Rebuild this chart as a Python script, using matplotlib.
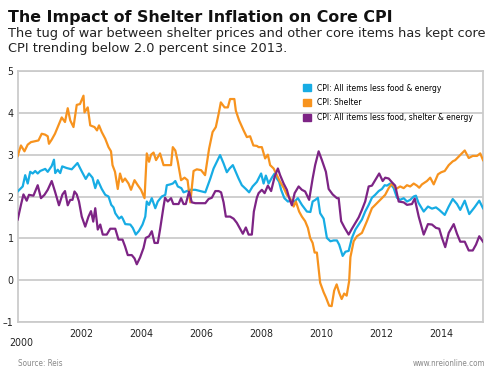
import matplotlib
matplotlib.use('Agg')
import matplotlib.pyplot as plt
import matplotlib.font_manager as fm
from matplotlib.patches import Patch
import numpy as np

# months since Jan 2000 (YoY % change)
core_months = [0, 2, 3, 4, 5, 6, 7, 8, 9, 11, 12, 13.6, 14.5, 15, 16, 17, 17.8, 19.6, 21.6,
               23.9, 25.6, 27.2, 28.5, 29.9, 31, 32, 33.6, 35, 36.3, 37.4, 38.3, 39, 40.5,
               41.5, 42, 43, 45, 46, 47.2, 48.5, 49.9, 51, 51.6, 52.5, 53.6, 55, 56, 57.6,
               59, 59.6, 61, 62, 63, 64, 65.4, 66.3, 67.6, 69, 71, 73, 75, 77, 78.3, 79.6,
               80.9, 82.3, 83.6, 84.7, 86, 87, 88.3, 89.6, 91.2, 92.5, 93.9, 95.6, 97.3,
               98.3, 99.2, 100.3, 101.6, 102.7, 103.6, 104.5, 105.3, 106.6, 108, 109.3,
               110.7, 112, 113.6, 115.6, 117, 117.9, 119, 120, 120.9, 122.3, 123.6, 125,
               126.3, 127.6, 128.5, 129.9, 131, 132.3, 133.6, 135, 136.3, 137.6, 138.9,
               140.3, 141.6, 142.9, 144.3, 145.6, 146.7, 147.6, 148.9, 150.3, 151.6, 152.9,
               154.3, 155.6, 156.9, 158.3, 159.2, 160.2, 162.3, 164, 165.6, 167.2, 168.5,
               170.7, 172.3, 173.9, 175.6, 176.9, 178.7, 180.5, 182.6, 184.5, 186]
core_vals = [2.12, 2.24, 2.51, 2.31, 2.59, 2.55, 2.61, 2.55, 2.61, 2.66, 2.59, 2.73, 2.88, 2.56,
             2.64, 2.56, 2.72, 2.68, 2.65, 2.8, 2.6, 2.42, 2.55, 2.45, 2.2, 2.39, 2.18, 2.04,
             2.0, 1.8, 1.74, 1.6, 1.47, 1.52, 1.47, 1.34, 1.33, 1.25, 1.09, 1.18, 1.33, 1.52,
             1.88, 1.8, 1.96, 1.72, 1.88, 2.0, 2.04, 2.27, 2.29, 2.31, 2.37, 2.24, 2.2, 2.1,
             2.13, 2.16, 2.16, 2.13, 2.1, 2.43, 2.67, 2.83, 2.99, 2.79, 2.58, 2.67, 2.75,
             2.61, 2.43, 2.27, 2.18, 2.1, 2.24, 2.35, 2.55, 2.31, 2.5, 2.31, 2.45, 2.55, 2.43,
             2.35, 2.16, 1.96, 1.88, 1.9, 1.88, 1.96, 1.8, 1.64, 1.63, 1.88, 1.92, 1.97, 1.6,
             1.47, 1.01, 0.93, 0.95, 0.95, 0.85, 0.58, 0.68, 0.7, 1.01, 1.21, 1.33, 1.45, 1.64,
             1.8, 1.97, 2.04, 2.13, 2.18, 2.27, 2.26, 2.31, 2.2, 1.97, 1.92, 1.96, 1.88, 1.92,
             2.0, 2.02, 1.85, 1.64, 1.76, 1.71, 1.74, 1.68, 1.56, 1.76, 1.94, 1.82, 1.68, 1.9,
             1.58, 1.74, 1.9, 1.72]

shelter_months = [0, 1.3, 2.7, 4, 5.3, 6.9, 8.3, 9.6, 10.9, 12, 12.5, 13.6, 14.9, 16.3, 17.6,
                  18.9, 20, 21, 22.3, 23.6, 24.9, 26.3, 26.7, 28, 29, 30.7, 31.7, 32.5, 33.6,
                  35, 36.3, 37.3, 37.9, 38.9, 40, 40.9, 41.9, 42.9, 44.3, 45.3, 46.7, 48,
                  49.3, 50.7, 51.6, 52.5, 53.3, 54.3, 55.3, 56.9, 58.3, 59.6, 61.3, 62, 63,
                  64, 65.3, 66.7, 67.9, 69, 70.3, 71.6, 73.3, 74.9, 76.5, 77.9, 79.2, 80.3,
                  81.2, 82.7, 84, 84.9, 86.6, 87.2, 88.5, 90.3, 91.6, 92.9, 94.2, 95.6, 96.3,
                  97.6, 98.9, 100, 100.9, 102.3, 103.6, 104.9, 106.3, 107.6, 108.9, 110.3,
                  111.2, 112.5, 113.6, 114.9, 116, 116.9, 117.9, 118.7, 119.6, 120.9, 122.3,
                  123.2, 124.5, 125.5, 126.5, 127.5, 128.5, 129.5, 130.5, 131.5, 132.5, 133,
                  134.3, 135.6, 137.6, 139.6, 141.6, 143.6, 145.6, 146.9, 148.3, 149.6, 151.2,
                  152.9, 154.3, 155.6, 156.9, 158.3, 159.6, 160.5, 161.6, 163.6, 164.9, 166.3,
                  168, 169.3, 170.7, 172.3, 173.9, 174.9, 176.9, 178.7, 180.3, 181.9, 183.6,
                  184.9, 186]
shelter_vals = [2.97, 3.22, 3.08, 3.24, 3.3, 3.32, 3.34, 3.5, 3.48, 3.44, 3.26, 3.36, 3.5, 3.7,
                3.89, 3.78, 4.11, 3.82, 3.66, 4.19, 4.21, 4.41, 4.01, 4.13, 3.7, 3.66, 3.58,
                3.7, 3.54, 3.38, 3.18, 3.08, 2.75, 2.59, 2.18, 2.55, 2.35, 2.43, 2.31, 2.16,
                2.39, 2.27, 2.16, 1.96, 3.03, 2.83, 3.0, 3.05, 2.87, 3.03, 2.75, 2.75, 2.75,
                3.18, 3.1, 2.83, 2.39, 2.45, 2.39, 1.86, 2.61, 2.65, 2.63, 2.51, 3.14, 3.54,
                3.66, 3.97, 4.25, 4.13, 4.13, 4.33, 4.33, 4.05, 3.82, 3.58, 3.42, 3.44, 3.22,
                3.21, 3.18, 3.18, 2.91, 3.0, 2.75, 2.67, 2.51, 2.35, 2.21, 2.04, 1.96, 1.76,
                1.88, 1.64, 1.52, 1.41, 1.25, 1.01, 0.89, 0.66, 0.66, -0.06, -0.29, -0.41,
                -0.61, -0.62, -0.25, -0.1, -0.3, -0.45, -0.32, -0.37, -0.02, 0.55, 0.93, 1.05,
                1.13, 1.41, 1.72, 1.84, 1.96, 2.04, 2.2, 2.31, 2.18, 2.24, 2.2, 2.27, 2.24,
                2.31, 2.26, 2.21, 2.29, 2.37, 2.45, 2.29, 2.53, 2.58, 2.61, 2.75, 2.84, 2.87,
                2.99, 3.1, 2.92, 2.97, 2.97, 3.03, 2.87]

ex_shelter_months = [0, 1.3, 2.3, 3.6, 4.5, 6.3, 8, 9.3, 10.7, 12, 13.6, 14.9, 16.5, 17.9,
                     18.9, 20, 21, 21.9, 22.7, 23.6, 24.5, 25.6, 27, 28.3, 29.3, 30.2, 31, 32,
                     33, 34, 35.6, 37, 39, 40.3, 41.9, 42.9, 44, 45.6, 46.7, 47.6, 48.9, 50.3,
                     51.2, 52.5, 53.6, 54.7, 56, 56.9, 58.3, 58.9, 60, 61.3, 62.2, 63.6, 64.3,
                     65.3, 66.3, 67.2, 68.5, 69.6, 71, 73, 75, 76.3, 77.6, 79, 80.3, 81.3, 82.3,
                     83.2, 84.9, 86.3, 87.6, 88.7, 90, 91.2, 92.3, 93.6, 94.4, 95.6, 96.3, 97.6,
                     98.7, 100, 101.3, 102.7, 104, 104.9, 106.3, 107.6, 108.5, 109.6, 110.7,
                     112.3, 113.6, 114.9, 116.5, 117.9, 118.9, 120.3, 121.6, 123.2, 124.3,
                     125.9, 127.6, 128.3, 129.3, 130.7, 132.3, 133.6, 135, 136.3, 137.6, 138.9,
                     140.3, 141.6, 142.9, 144.5, 145.9, 146.9, 148.3, 149.6, 150.9, 152.3,
                     154.3, 155.6, 157.6, 158.7, 160.3, 162.3, 164, 165.6, 167.2, 168.5, 169.6,
                     170.9, 172.3, 174.3, 175.6, 176.9, 178.7, 180.3, 181.9, 183.2, 184.5, 186]
ex_shelter_vals = [1.45, 1.8, 2.05, 1.9, 2.04, 2.02, 2.27, 1.96, 2.04, 2.16, 2.37, 2.12, 1.79,
                   2.05, 2.13, 1.79, 1.92, 1.92, 2.12, 2.05, 1.88, 1.52, 1.28, 1.52, 1.65, 1.4,
                   1.72, 1.21, 1.33, 1.09, 1.09, 1.23, 1.23, 0.97, 0.97, 0.81, 0.6, 0.6, 0.52,
                   0.38, 0.54, 0.77, 1.01, 1.05, 1.17, 0.89, 0.89, 1.21, 1.76, 1.97, 1.88, 1.96,
                   1.82, 1.82, 1.82, 1.96, 1.82, 1.82, 2.12, 1.86, 1.84, 1.84, 1.84, 1.94, 1.97,
                   2.13, 2.13, 2.1, 1.86, 1.52, 1.52, 1.47, 1.37, 1.25, 1.11, 1.26, 1.09, 1.09,
                   1.64, 1.97, 2.08, 2.16, 2.08, 2.26, 2.13, 2.47, 2.67, 2.51, 2.31, 2.16, 1.97,
                   1.79, 2.08, 2.24, 2.16, 2.12, 1.92, 2.43, 2.75, 3.08, 2.87, 2.59, 2.18, 2.05,
                   1.96, 1.96, 1.41, 1.25, 1.09, 1.23, 1.37, 1.5, 1.68, 1.88, 2.24, 2.26, 2.39,
                   2.55, 2.37, 2.45, 2.43, 2.34, 2.26, 1.88, 1.86, 1.8, 1.82, 1.95, 1.52, 1.09,
                   1.34, 1.33, 1.25, 1.23, 1.01, 0.79, 1.13, 1.34, 1.11, 0.92, 0.92, 0.71, 0.71,
                   0.85, 1.05, 0.92]

series_labels = ['CPI: All items less food & energy', 'CPI: Shelter',
                 'CPI: All items less food, shelter & energy']
year_labels = ['2000', '2002', '2004', '2006', '2008', '2010', '2012', '2014']
y_ticks = [-1, 0, 1, 2, 3, 4, 5]

BLUE = '#17ace4'
ORANGE = '#f7931e'
PURPLE = '#7d2485'
GRID = '#cbcbcb'
W, H = 500, 385


def narrow_font():
    # look for any condensed / narrow sans face; fall back to Roboto
    for f in fm.fontManager.ttflist:
        cond = ('Narrow' in f.name or 'Condensed' in f.name
                or f.stretch in ('condensed', 'semi-condensed', 'extra-condensed'))
        if cond and f.style == 'normal' and f.weight in (400, 'normal', 'regular', 'book'):
            return fm.FontProperties(fname=f.fname)
    return fm.FontProperties(family='Roboto')


NARROW = narrow_font()

fig = plt.figure(figsize=(5, 3.85), dpi=100)
ax = fig.add_axes([0.0354, 0.1636, 0.9306, 0.652])

ax.plot(core_months, core_vals, color=BLUE, lw=1.6, zorder=3)
ax.plot(shelter_months, shelter_vals, color=ORANGE, lw=1.6, zorder=3)
ax.plot(ex_shelter_months, ex_shelter_vals, color=PURPLE, lw=1.6, zorder=3)

ax.set_xlim(0, 186)
ax.set_ylim(-1, 5)
ax.set_yticks(y_ticks)
ax.set_yticklabels(['\u20131' if v < 0 else str(v) for v in y_ticks])
ax.grid(axis='y', color=GRID, lw=1.3)
ax.set_axisbelow(True)
for s in ax.spines.values():
    s.set_color(GRID)
    s.set_linewidth(1.3)

tick_pos = [1.5 + 24 * i for i in range(len(year_labels))]
ax.set_xticks(tick_pos)
ax.set_xticklabels(year_labels)
ax.tick_params(length=0)
ax.tick_params(axis='y', pad=3)
ax.tick_params(axis='x', pad=5)

fig.canvas.draw()
r = fig.canvas.get_renderer()


def fit_size(text, props, size, target_px):
    t = fig.text(0, 0, text, fontproperties=props, fontsize=size)
    w = t.get_window_extent(r).width
    t.remove()
    return size * target_px / w


for lab in ax.get_xticklabels() + ax.get_yticklabels():
    lab.set_fontproperties(NARROW)
    lab.set_fontsize(7.6)
    lab.set_color('#222222')
# first year label sits lower in the original
ax.get_xticklabels()[0].set_y(-0.035)

leg_size = fit_size(series_labels[2], NARROW, 8, 155)
leg_props = NARROW.copy()
leg_props.set_size(leg_size)
handles = [Patch(color=c) for c in (BLUE, ORANGE, PURPLE)]
fs_px = leg_size / 72 * 100
leg = ax.legend(handles, series_labels, loc='upper left', bbox_to_anchor=(0.6125, 0.95),
                frameon=False, prop=leg_props,
                handlelength=8 / fs_px, handleheight=8 / fs_px, handletextpad=6 / fs_px,
                labelspacing=(16.5 - 1.25 * fs_px) / fs_px, borderpad=0, borderaxespad=0)

title_props = fm.FontProperties(family='DejaVu Sans', weight='bold')
sub_props = fm.FontProperties(family='DejaVu Sans')
title = 'The Impact of Shelter Inflation on Core CPI'
sub1 = 'The tug of war between shelter prices and other core items has kept core'
sub2 = 'CPI trending below 2.0 percent since 2013.'
title_size = fit_size(title, title_props, 12, 382)
sub_size = fit_size(sub1, sub_props, 8.5, 478)

fig.text(8 / W, 1 - 21.7 / H, title, fontproperties=title_props, fontsize=title_size,
         va='baseline', color='#111111')
fig.text(8 / W, 1 - 37 / H, sub1, fontproperties=sub_props, fontsize=sub_size,
         va='baseline', color='#222222')
fig.text(8 / W, 1 - 52 / H, sub2, fontproperties=sub_props, fontsize=sub_size,
         va='baseline', color='#222222')

src_props = NARROW.copy()
src_props.set_size(5.8)
fig.text(0.036, 0.057, 'Source: Reis', fontproperties=src_props, color='#888888', va='center')
fig.text(0.97, 0.057, 'www.nreionline.com', fontproperties=src_props, color='#888888',
         va='center', ha='right')

fig.savefig('out.png', dpi=100)
